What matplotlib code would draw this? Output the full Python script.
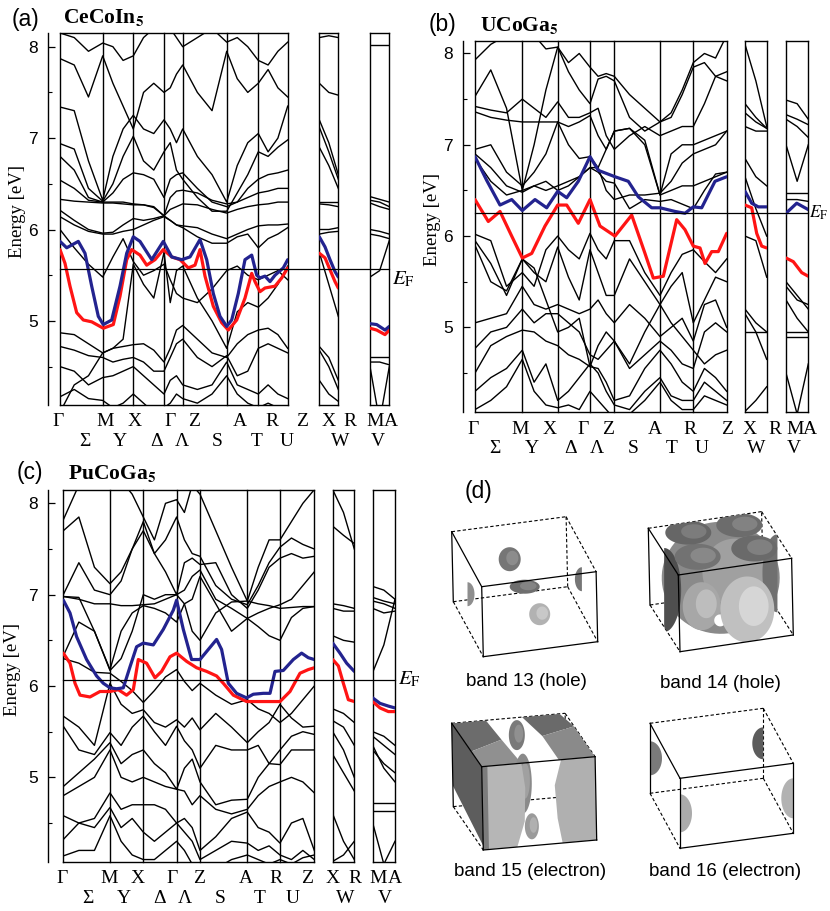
import numpy as np
import matplotlib
matplotlib.use("Agg")
import matplotlib.pyplot as plt
from matplotlib.lines import Line2D
from matplotlib.patches import Polygon
from matplotlib import transforms

plt.rcParams['mathtext.fontset'] = 'stix'
plt.rcParams['font.family'] = ['Liberation Sans', 'DejaVu Sans']
SERIF = ['Liberation Serif', 'DejaVu Serif']
SANS = ['Liberation Sans', 'DejaVu Sans']

# ------------------------------------------------------------------ data
TOP_LABELS = ['Γ', 'M', 'X', 'Γ', 'Z', 'A', 'R', 'Z', 'X', 'R', 'M', 'A']
BOTTOM_LABELS = ['Σ', 'Y', 'Δ', 'Λ', 'S', 'T', 'U', 'W', 'V']

# ---- (a) CeCoIn5
a_nodes = [0, 42.7, 73.3, 104, 122.7, 166.7, 198.3, 227.7]
a_xr_len, a_ma_len = 19.0, 19.3
a_EF = 5.57
a_black = [
    [8.15, 8.1, 7.95, 8.04, 8.0, 7.85, 7.9, 8.1, 8.2, 8.3, 8.2, 8.1, 8.0, 8.1, 8.2, 8.05, 8.1, 8.0, 7.85, 7.8, 7.95, 8.05],
    [7.87, 7.8, 7.45, 7.9, 7.6, 7.35, 7.1, 7.5, 7.6, 7.5, 7.55, 7.7, 7.8, 7.5, 7.3, 7.95, 7.65, 7.5, 7.6, 7.75, 7.55, 7.45],
    [7.34, 7.3, 6.75, 6.32, 6.8, 7.1, 7.25, 7.1, 7.05, 7.2, 7.1, 6.95, 7.1, 6.8, 6.6, 6.3, 6.7, 6.95, 7.05, 6.85, 7.0, 7.35],
    [6.94, 6.88, 6.45, 6.31, 6.5, 6.8, 7.02, 6.75, 6.65, 6.85, 6.95, 6.65, 6.55, 6.35, 6.2, 6.2, 6.4, 6.6, 6.85, 6.8, 6.9, 6.98],
    [6.80, 6.65, 6.35, 6.30, 6.4, 6.55, 6.62, 6.6, 6.55, 6.35, 6.55, 6.6, 6.62, 6.45, 6.3, 6.25, 6.3, 6.45, 6.55, 6.6, 6.62, 6.65],
    [6.54, 6.45, 6.32, 6.3, 6.3, 6.3, 6.28, 6.27, 6.24, 6.15, 6.35, 6.42, 6.43, 6.4, 6.32, 6.28, 6.3, 6.35, 6.4, 6.42, 6.45, 6.45],
    [6.33, 6.31, 6.3, 6.29, 6.29, 6.28, 6.27, 6.27, 6.25, 6.15, 6.22, 6.25, 6.28, 6.27, 6.22, 6.18, 6.22, 6.25, 6.27, 6.28, 6.3, 6.3],
    [6.21, 6.1, 6.0, 5.96, 5.97, 6.05, 6.12, 6.1, 6.12, 6.15, 6.1, 6.05, 6.04, 6.02, 5.95, 5.9, 5.95, 6.0, 6.04, 6.05, 6.05, 6.06],
    [6.14, 6.05, 5.98, 5.95, 5.95, 5.98, 6.0, 6.05, 6.1, 6.14, 6.1, 6.05, 6.02, 5.92, 5.85, 5.85, 5.92, 5.95, 5.8, 5.9, 5.95, 6.02],
    [6.0, 5.8, 5.62, 5.48, 5.7, 5.9, 5.65, 5.5, 5.55, 5.62, 5.45, 5.3, 5.25, 5.2, 5.35, 5.55, 5.6, 5.5, 5.45, 5.5, 5.55, 5.45],
    [4.87, 4.85, 4.75, 4.65, 4.7, 4.72, 4.74, 4.75, 4.68, 4.55, 4.7, 4.9, 4.95, 4.8, 4.65, 4.6, 4.75, 4.85, 4.9, 4.92, 4.85, 4.7],
    [4.72, 4.68, 4.62, 4.6, 4.55, 4.58, 4.6, 4.55, 4.45, 4.45, 4.6, 4.75, 4.8, 4.6, 4.5, 4.62, 4.4, 4.45, 4.7, 4.75, 4.7, 4.65],
    [4.5, 4.45, 4.3, 4.38, 4.4, 4.45, 4.5, 4.4, 4.3, 4.2, 4.35, 4.4, 4.3, 4.25, 4.3, 4.55, 4.3, 4.25, 4.2, 4.3, 4.2, 4.15],
    [4.17, 4.25, 4.15, 4.13, 4.05, 4.1, 4.2, 4.1, 4.0, 4.05, 4.1, 4.2, 4.15, 4.1, 4.2, 4.4, 4.2, 4.1, 4.05, 4.1, 4.05, 4.0],
    [4.0, 4.3, 4.4, 4.65, 4.7, 4.8, 5.62, 5.4, 5.25, 5.75, 5.2, 5.55, 5.6, 5.25, 5.0, 4.7, 5.1, 5.2, 5.15, 5.25, 5.4, 5.6],
]
a_xr_black = [[8.1, 8.12, 8.1], [7.6, 7.5, 7.47], [7.2, 6.95, 6.6], [7.12, 6.85, 6.55], [6.9, 6.7, 6.45],
              [6.3, 6.3, 6.3], [6.28, 6.27, 6.25], [6.0, 6.0, 6.02], [5.95, 5.97, 5.98], [5.75, 5.4, 5.05],
              [4.72, 4.6, 4.35], [4.68, 4.5, 4.25], [4.35, 4.2, 4.12]]
a_ma_black = [[8.02, 8.02, 8.02], [6.36, 6.33, 6.3], [6.32, 6.3, 6.25], [6.29, 6.25, 6.22], [6.0, 5.98, 5.95],
              [5.95, 5.93, 5.9], [5.48, 5.55, 5.88], [4.6, 4.6, 4.6], [4.55, 4.55, 4.52], [4.5, 3.9, 4.5]]
a_blue_k = [0, 6.7, 18.3, 25, 31.7, 38.3, 43.3, 51.7, 60, 66.7, 73.3, 80, 91.7, 103.3, 111.7, 121.7, 130, 140,
            146.7, 153.3, 160, 166.7, 171.7, 178.3, 185, 191.7, 196.7, 200, 205, 210, 215, 223.3, 227.7]
a_blue_E = [5.87, 5.80, 5.87, 5.74, 5.38, 5.05, 4.96, 5.01, 5.38, 5.74, 5.92, 5.87, 5.67, 5.87, 5.70, 5.67, 5.70,
            5.89, 5.67, 5.30, 5.05, 4.94, 5.01, 5.30, 5.67, 5.72, 5.50, 5.47, 5.49, 5.43, 5.50, 5.58, 5.67]
a_red_k = [0, 5, 10, 16.7, 23.3, 31.7, 43.3, 53.3, 60, 66.7, 71.7, 80, 86.7, 95, 103.3, 111.7, 120, 128.3, 135,
           140, 145, 153.3, 161.7, 168.3, 176.7, 185, 191.7, 195, 200, 205, 215, 221.7, 227.7]
a_red_E = [5.78, 5.63, 5.38, 5.09, 5.01, 4.99, 4.92, 4.96, 5.27, 5.67, 5.78, 5.72, 5.61, 5.67, 5.78, 5.70, 5.67,
           5.58, 5.61, 5.78, 5.49, 5.16, 4.98, 4.90, 5.01, 5.25, 5.52, 5.43, 5.32, 5.36, 5.38, 5.47, 5.58]
a_xr_k = [0, 5.7, 10.7, 15.7, 19]
a_xr_blue_E = [5.92, 5.81, 5.67, 5.54, 5.48]
a_xr_red_E = [5.74, 5.69, 5.56, 5.43, 5.36]
a_ma_k = [0, 6.7, 15, 19.3]
a_ma_blue_E = [4.97, 4.96, 4.90, 4.94]
a_ma_red_E = [4.92, 4.90, 4.85, 4.90]

# ---- (b) UCoGa5
b_nodes = [0, 47.3, 82.7, 115, 139.3, 185, 218.3, 251.7]
b_xr_len, b_ma_len = 21.7, 22.3
b_EF = 6.25
b_black = [
    [7.93, 8.1, 8.2, 8.3, 8.2, 8.05, 8.07, 7.9, 8.0, 7.85, 7.75, 7.78, 7.75, 7.55, 7.4, 7.25, 7.35, 7.6, 7.9, 8.0, 7.95, 8.2],
    [7.53, 7.82, 7.4, 6.5, 7.0, 7.6, 8.07, 7.8, 7.6, 7.45, 7.72, 7.75, 7.7, 7.3, 7.15, 7.25, 7.3, 7.55, 7.85, 7.9, 7.75, 7.7],
    [7.42, 7.38, 7.35, 7.5, 7.4, 7.3, 7.47, 7.3, 7.3, 7.35, 7.4, 7.1, 6.95, 7.1, 7.2, 7.1, 7.15, 7.2, 7.2, 7.45, 7.75, 7.8],
    [7.36, 7.3, 7.27, 7.25, 7.25, 7.25, 7.25, 7.2, 7.25, 7.32, 7.1, 6.95, 7.15, 7.18, 7.05, 6.45, 6.9, 7.0, 7.0, 7.05, 7.1, 7.15],
    [6.95, 7.0, 6.7, 6.55, 6.7, 6.9, 7.25, 7.0, 6.85, 6.87, 6.75, 6.5, 6.4, 6.45, 6.45, 6.47, 6.6, 6.8, 6.9, 6.95, 7.0, 7.15],
    [6.9, 6.75, 6.55, 6.48, 6.55, 6.6, 6.5, 6.55, 6.65, 6.75, 6.7, 6.6, 6.58, 6.3, 6.4, 6.38, 6.4, 6.35, 6.3, 6.5, 6.68, 6.7],
    [6.02, 5.95, 5.45, 5.6, 5.45, 5.85, 6.0, 5.85, 5.75, 6.03, 5.85, 5.75, 5.95, 5.95, 5.6, 5.35, 5.6, 5.8, 5.85, 5.72, 5.6, 5.75],
    [5.95, 5.7, 5.35, 5.75, 5.6, 5.5, 5.88, 5.55, 5.3, 5.85, 5.6, 5.35, 5.35, 5.75, 5.5, 5.25, 5.45, 5.6, 5.05, 5.3, 5.55, 5.5],
    [5.05, 5.1, 5.15, 5.45, 5.25, 5.2, 5.25, 5.2, 5.15, 5.2, 5.3, 5.15, 5.05, 5.25, 5.1, 4.9, 5.0, 5.1, 4.85, 5.25, 5.3, 5.0],
    [4.77, 4.95, 5.0, 5.2, 5.05, 5.15, 5.15, 5.05, 4.95, 4.7, 4.65, 4.75, 4.85, 4.55, 4.7, 4.85, 4.75, 4.6, 4.55, 4.95, 5.05, 4.95],
    [4.5, 4.8, 4.9, 4.97, 4.95, 4.85, 4.8, 4.7, 4.65, 4.57, 4.55, 4.4, 4.2, 4.25, 4.55, 4.75, 4.6, 4.4, 4.3, 4.55, 4.45, 4.3],
    [4.3, 4.45, 4.55, 4.75, 4.4, 4.6, 4.2, 4.3, 4.45, 4.6, 4.5, 4.3, 4.15, 4.1, 4.3, 4.45, 4.25, 4.2, 4.2, 4.4, 4.3, 4.2],
    [4.1, 4.2, 4.35, 4.65, 4.3, 4.15, 4.12, 4.15, 4.1, 4.3, 4.2, 4.1, 4.0, 4.05, 4.2, 4.4, 4.2, 4.1, 4.1, 4.25, 4.2, 4.15],
    [6.85, 6.6, 6.45, 6.5, 6.55, 6.5, 6.55, 6.6, 6.65, 6.75, 6.75, 6.95, 7.15, 7.18, 7.0, 6.45, 6.5, 6.55, 6.55, 6.6, 6.65, 6.7],
    [5.9, 5.5, 5.4, 5.75, 5.65, 5.3, 4.95, 5.0, 5.1, 4.57, 4.8, 4.95, 4.85, 4.6, 4.95, 5.25, 5.05, 4.9, 4.75, 4.6, 4.7, 4.75],
]
b_xr_black = [[8.1, 7.7, 7.2], [7.45, 7.3, 7.18], [7.35, 7.25, 7.18], [7.2, 7.15, 7.15], [6.85, 6.65, 6.55],
              [6.65, 6.3, 6.0], [6.0, 5.95, 5.55], [5.2, 5.05, 4.95], [5.15, 4.95, 4.65], [4.95, 4.95, 4.95],
              [4.08, 4.2, 4.35]]
b_ma_black = [[7.49, 7.45, 7.28], [7.33, 7.28, 7.22], [7.28, 7.2, 7.08], [7.0, 6.6, 7.0], [6.47, 6.47, 6.47],
              [6.4, 6.4, 6.38], [5.5, 5.35, 5.2], [5.45, 5.3, 5.25], [5.3, 5.1, 4.95], [4.95, 4.95, 4.95],
              [4.9, 4.9, 4.9], [4.5, 4.05, 4.6]]
b_blue_k = [0, 11.7, 25, 36.7, 47.3, 60, 71.7, 82.7, 91.7, 103.3, 115, 123.3, 140, 153.3, 163.3, 176.7, 185, 200,
            210, 218.3, 226.7, 240, 251.7]
b_blue_E = [6.87, 6.61, 6.34, 6.40, 6.28, 6.40, 6.31, 6.49, 6.42, 6.60, 6.87, 6.72, 6.65, 6.60, 6.43, 6.31, 6.31,
            6.27, 6.25, 6.32, 6.31, 6.60, 6.65]
b_red_k = [0, 13.3, 25, 36.7, 47.3, 56.7, 70, 82.7, 91.7, 103.3, 115, 125, 140, 156.7, 170, 178.3, 188.3, 201.7,
           210, 218.3, 225, 230, 236.7, 243.3, 251.7]
b_red_E = [6.40, 6.16, 6.27, 6.00, 5.76, 5.81, 6.11, 6.34, 6.34, 6.14, 6.40, 6.11, 6.00, 6.23, 5.81, 5.54, 5.56,
           6.18, 6.07, 5.89, 5.87, 5.70, 5.83, 5.83, 6.03]
b_xr_blue_k, b_xr_blue_E = [0, 6.7, 13.3, 21.7], [6.49, 6.36, 6.32, 6.32]
b_xr_red_k, b_xr_red_E = [0, 6.7, 11.7, 16.7, 21.7], [6.34, 6.31, 6.03, 5.89, 5.87]
b_ma_blue_k, b_ma_blue_E = [0, 10.7, 17.3, 22.3], [6.25, 6.36, 6.32, 6.29]
b_ma_red_k, b_ma_red_E = [0, 7.3, 15.7, 22.3], [5.76, 5.72, 5.60, 5.56]

# ---- (c) PuCoGa5
c_nodes = [0, 46.7, 80, 113.3, 136.7, 184, 216.7, 251]
c_xr_len, c_ma_len = 21.7, 22.3
c_EF = 6.07
c_black = [
    [7.82, 8.2, 8.3, 8.2, 8.25, 8.1, 7.85, 7.6, 8.0, 8.04, 7.9, 8.2, 8.1, 7.7, 7.3, 6.93, 7.3, 7.6, 7.6, 7.8, 8.0, 8.15],
    [7.7, 7.85, 7.3, 7.12, 7.25, 7.5, 7.8, 7.45, 7.6, 7.85, 7.6, 7.45, 7.42, 7.1, 6.95, 6.89, 7.1, 7.35, 7.52, 7.62, 7.55, 7.5],
    [7.0, 7.35, 7.05, 7.0, 7.15, 7.5, 7.7, 7.45, 7.25, 7.0, 7.35, 7.4, 7.33, 7.35, 7.0, 6.85, 7.05, 7.3, 7.4, 7.45, 7.4, 7.42],
    [6.98, 6.95, 6.9, 6.9, 6.88, 6.88, 6.89, 6.9, 6.95, 7.0, 7.05, 7.2, 7.27, 6.95, 6.85, 6.74, 6.8, 6.85, 6.89, 6.95, 7.1, 7.25],
    [6.33, 6.7, 6.6, 6.18, 6.6, 6.8, 6.88, 6.85, 6.8, 6.7, 6.9, 6.95, 7.2, 6.9, 6.6, 6.74, 6.65, 6.55, 6.5, 6.75, 6.85, 6.87],
    [6.3, 6.25, 6.15, 6.14, 6.05, 5.95, 5.82, 5.95, 6.1, 6.18, 6.05, 5.95, 6.03, 5.9, 5.8, 5.85, 5.75, 5.7, 5.6, 5.7, 5.85, 6.0],
    [5.67, 5.55, 5.35, 6.03, 5.8, 5.7, 5.74, 5.6, 5.55, 5.63, 5.55, 5.65, 5.52, 5.7, 5.55, 5.38, 5.5, 5.6, 5.8, 5.65, 5.55, 5.56],
    [5.56, 5.3, 5.25, 5.49, 5.35, 5.55, 5.67, 5.5, 5.35, 5.56, 5.4, 5.3, 5.1, 5.35, 5.3, 5.3, 5.35, 5.15, 5.3, 5.45, 5.5, 5.47],
    [4.9, 5.05, 5.2, 5.38, 5.15, 5.25, 5.3, 5.15, 5.05, 4.87, 5.1, 5.2, 4.95, 4.7, 4.75, 4.76, 5.0, 5.15, 5.14, 5.3, 5.3, 5.3],
    [4.8, 4.9, 5.0, 5.3, 5.0, 4.95, 5.0, 4.95, 4.9, 4.87, 4.85, 4.7, 4.8, 4.65, 4.6, 4.65, 4.8, 4.9, 4.95, 5.0, 4.95, 4.83],
    [4.58, 4.5, 4.55, 4.83, 4.65, 4.7, 4.7, 4.7, 4.65, 4.5, 4.55, 4.45, 4.2, 4.35, 4.55, 4.62, 4.45, 4.4, 4.28, 4.5, 4.55, 4.2],
    [4.32, 4.5, 4.45, 4.67, 4.45, 4.55, 4.4, 4.3, 4.4, 4.5, 4.4, 4.3, 4.1, 4.2, 4.3, 4.28, 4.2, 4.25, 4.15, 4.1, 4.2, 4.1],
    [4.14, 4.2, 4.2, 4.58, 4.3, 4.15, 4.1, 4.1, 4.2, 4.3, 4.2, 4.05, 3.9, 4.0, 4.1, 4.15, 4.1, 4.05, 4.1, 4.05, 4.12, 4.15],
    [6.98, 6.97, 6.6, 6.17, 6.3, 6.6, 7.0, 6.95, 7.0, 7.0, 6.9, 6.6, 6.5, 6.8, 6.92, 6.93, 6.9, 6.88, 6.85, 6.86, 6.87, 6.87],
]
c_xr_black = [[8.15, 7.9, 7.5], [7.75, 7.65, 7.56], [6.9, 6.88, 6.85], [6.85, 6.82, 6.82], [6.55, 6.5, 6.48],
              [5.75, 5.7, 5.6], [5.62, 5.55, 5.35], [5.5, 5.3, 5.0], [5.25, 5.05, 4.85], [4.6, 4.3, 4.1],
              [4.08, 4.15, 4.3]]
c_ma_black = [[7.09, 7.05, 6.95], [6.97, 6.93, 6.9], [6.93, 6.9, 6.85], [6.85, 6.8, 6.82], [6.15, 6.45, 6.95],
              [5.5, 5.45, 5.35], [5.45, 5.35, 5.25], [5.3, 5.15, 5.05], [5.35, 5.1, 4.95], [4.72, 4.72, 4.72],
              [4.63, 4.63, 4.63], [4.5, 4.05, 4.3]]
c_blue_k = [0, 6.7, 13.3, 23.3, 33.3, 40, 46.7, 53.3, 60, 66.7, 73.3, 80, 90, 100, 110, 113.3, 120, 128.3, 136.7,
            145, 153.3, 158.3, 165, 173.3, 183.3, 190, 200, 206.7, 211.7, 220, 230, 238.3, 245, 251]
c_blue_E = [6.94, 6.80, 6.54, 6.29, 6.11, 6.03, 5.98, 5.97, 5.98, 6.21, 6.43, 6.47, 6.45, 6.62, 6.83, 6.94, 6.62,
            6.29, 6.29, 6.40, 6.51, 6.40, 6.03, 5.92, 5.87, 5.91, 5.92, 5.92, 6.16, 6.17, 6.29, 6.36, 6.31, 6.29]
c_red_k = [0, 6.7, 11.7, 16.7, 26.7, 36.7, 46.7, 55, 63.3, 70, 75, 83.3, 91.7, 98.3, 106.7, 113.3, 123.3, 133.3,
           143.3, 153.3, 160, 170, 183.3, 196.7, 206.7, 216.7, 226.7, 236.7, 245, 251]
c_red_E = [6.36, 6.25, 6.03, 5.90, 5.88, 5.94, 5.94, 5.96, 5.90, 5.96, 6.29, 6.25, 6.09, 6.16, 6.32, 6.36, 6.27,
           6.20, 6.16, 6.11, 6.03, 5.90, 5.83, 5.83, 5.83, 5.83, 5.94, 6.14, 6.18, 6.20]
c_xr_blue_k, c_xr_blue_E = [0, 7.3, 14, 21.7], [6.47, 6.36, 6.25, 6.16]
c_xr_red_k, c_xr_red_E = [0, 5.7, 10.7, 15.7, 21.7], [6.29, 6.22, 6.03, 5.85, 5.83]
c_ma_k = [0, 7.3, 15.7, 22.3]
c_ma_blue_E = [5.87, 5.81, 5.78, 5.76]
c_ma_red_E = [5.83, 5.76, 5.72, 5.72]

# ---- (d) Fermi-surface pockets (fractional BZ coords u, v, w; size; grey)
fs_titles = ['band 13 (hole)', 'band 14 (hole)', 'band 15 (electron)', 'band 16 (electron)']
band13_pockets = [(0.5, 1.0, 0.5, 22, 24, '#767676', None), (0.5, 0.5, 0.5, 30, 14, '#6e6e6e', None),
                  (0.0, 0.5, 0.5, 14, 24, '#8e8e8e', 'right'), (1.0, 0.5, 0.5, 14, 24, '#767676', 'left'),
                  (0.5, 0.0, 0.5, 21, 22, '#b2b2b2', None)]
band14_pockets = [(0.5, 0.5, 0.55, 118, 112, '#8a8a8a', None), (0.0, 0.5, 0.5, 34, 84, '#4f4f4f', 'right'),
                  (1.0, 0.5, 0.5, 30, 78, '#707070', 'left'), (0.25, 0.3, 1.0, 46, 26, '#727272', None),
                  (0.75, 0.3, 1.0, 46, 26, '#6a6a6a', None), (0.3, 0.8, 1.0, 46, 24, '#666666', None),
                  (0.75, 0.8, 1.0, 46, 24, '#6c6c6c', None), (0.2, 0.0, 0.55, 38, 48, '#a7a7a7', None),
                  (0.36, 0.0, 0.33, 12, 12, '#ffffff', None), (0.6, 0.0, 0.42, 54, 66, '#c0c0c0', None)]
band15_faces = [('#5d5d5d', [(0, 0, 0.05), (0, 0, 1), (0, 1, 1), (0, 1, 0.25)]),
                ('#6c6c6c', [(0, 0.35, 1), (0, 1, 1), (0.3, 1, 1), (0.32, 0.55, 1)]),
                ('#909090', [(0, 0, 1), (0, 0.35, 1), (0.32, 0.55, 1), (0.35, 0, 1)]),
                ('#6a6a6a', [(0.62, 1, 1), (0.95, 1, 1), (1, 0.7, 1), (0.68, 0.55, 1)]),
                ('#8a8a8a', [(0.68, 0, 1), (1, 0, 1), (1, 0.7, 1), (0.68, 0.55, 1)])]
band15_pockets = [(0.5, 0.55, 0.45, 18, 60, '#8a8a8a', None), (0.47, 0.15, 0.15, 14, 26, '#9a9a9a', None),
                  (0.52, 0.8, 0.9, 16, 30, '#7a7a7a', None)]
band15_front = [('#b6b6b6', [(0, 0, 0), (0.3, 0, 0), (0.37, 0, 0.3), (0.38, 0, 0.7), (0.35, 0, 1), (0, 0, 1)]),
                ('#7c7c7c', [(0, 0, 0), (0.05, 0, 0), (0.05, 0, 1), (0, 0, 1)]),
                ('#b0b0b0', [(0.7, 0, 0), (1, 0, 0), (1, 0, 1), (0.7, 0, 1), (0.64, 0, 0.7), (0.66, 0, 0.3)])]
band16_pockets = [(0.0, 1.0, 0.5, 24, 34, '#7a7a7a', 'right'), (1.0, 1.0, 0.5, 22, 32, '#5c5c5c', 'left'),
                  (0.0, 0.0, 0.5, 24, 38, '#ababab', 'right'), (1.0, 0.0, 0.5, 24, 40, '#b2b2b2', 'left')]

# ------------------------------------------------------------------ layout
W, H = 830, 911
fig = plt.figure(figsize=(W / 100, H / 100), dpi=100)
fig.patch.set_facecolor('white')


def px_axes(l, t, r, b):
    return fig.add_axes([l / W, 1 - b / H, (r - l) / W, (b - t) / H])


BLUE = '#23238f'
RED = '#ff1414'


def style_box(ax, xlen, ylim):
    ax.set_xlim(0, xlen)
    ax.set_ylim(*ylim)
    ax.set_xticks([])
    ax.set_yticks([])
    for s in ax.spines.values():
        s.set_linewidth(1.0)


def draw_panel(L, nodes, xr_len, ma_len, EF, black, xr_black, ma_black,
               blue, red, xr_blue, xr_red, ma_blue, ma_red, tag, formula):
    l, t, r, b = L['main']
    ylim = L['ylim']
    ax = px_axes(l, t, r, b)
    axx = px_axes(L['xr'][0], t, L['xr'][1], b)
    axm = px_axes(L['ma'][0], t, L['ma'][1], b)
    style_box(ax, nodes[-1], ylim)
    style_box(axx, xr_len, ylim)
    style_box(axm, ma_len, ylim)
    # y axis on main panel, detached to the left
    ax.spines['left'].set_position(('outward', L['spine'] * 0.72))
    ax.set_yticks([5, 6, 7, 8])
    ax.set_yticks([4.5, 5.5, 6.5, 7.5], minor=True)
    ax.tick_params(axis='y', which='major', direction='in', length=5, width=0.9, labelsize=12.5, pad=7)
    ax.tick_params(axis='y', which='minor', direction='in', length=3, width=0.8)
    for lab in ax.get_yticklabels():
        lab.set_family(SANS)
    for k in nodes[:-1]:
        ax.axvline(k, color='k', lw=1.0, clip_on=False)
    # bands
    kgrid = np.concatenate([np.linspace(nodes[i], nodes[i + 1], 4)[:-1] for i in range(len(nodes) - 1)]
                           + [[nodes[-1]]])
    for E in black:
        ax.plot(kgrid, E, color='k', lw=1.0)
    for E in xr_black:
        axx.plot(np.linspace(0, xr_len, len(E)), E, color='k', lw=1.0)
    for E in ma_black:
        axm.plot(np.linspace(0, ma_len, len(E)), E, color='k', lw=1.0)
    for a, (bk, bE), (rk, rE) in ((ax, blue, red), (axx, xr_blue, xr_red), (axm, ma_blue, ma_red)):
        a.plot(rk, rE, color=RED, lw=2.3, zorder=5, solid_capstyle='round')
        a.plot(bk, bE, color=BLUE, lw=2.3, zorder=6, solid_capstyle='round')
    # Fermi level line across all three panels
    yd = ax.transData.transform((0, EF))[1] / fig.bbox.height
    x0 = ax.get_position().x0
    x1 = axm.get_position().x1
    fig.add_artist(Line2D([x0, x1], [yd, yd], transform=fig.transFigure, color='k', lw=0.9))
    tr = transforms.blended_transform_factory(axm.transAxes, axm.transData)
    axm.text(1.0 + L['ef_dx'] / (L['ma'][1] - L['ma'][0]), EF, r'$E_\mathrm{F}$', transform=tr,
             fontsize=L['ef_size'], va=L['ef_va'], ha='left', clip_on=False)
    # k labels
    for s, x in zip(TOP_LABELS, L['top_x']):
        fig.text(x / W, 1 - L['top_y'] / H, s, family=SERIF, fontsize=14, ha='center', va='center')
    for s, x in zip(BOTTOM_LABELS, L['bot_x']):
        fig.text(x / W, 1 - L['bot_y'] / H, s, family=SERIF, fontsize=14, ha='center', va='center')
    # y label and titles
    fig.text(L['ylab'][0] / W, 1 - L['ylab'][1] / H, 'Energy [eV]', family=SERIF, fontsize=13.5,
             rotation=90, ha='center', va='center')
    fig.text(L['tag'][0] / W, 1 - L['tag'][1] / H, tag, family=SANS, fontsize=16.5, ha='left', va='baseline')
    fig.text(L['form'][0] / W, 1 - L['form'][1] / H, formula, family=SERIF, fontsize=15.5,
             weight='bold', ha='left', va='baseline')


LAY_A = dict(main=(60, 33, 287.7, 405), xr=(319.3, 338.3), ma=(370, 389.3), ylim=(4.08, 8.15), spine=12.3,
             top_x=[58.3, 105, 135, 170, 194.3, 240, 271.7, 301.7, 328.3, 350, 375, 390.7], top_y=421.7,
             bot_x=[85, 120, 156.7, 181.7, 216.7, 256.7, 286.7, 340, 378.3], bot_y=441.7,
             ylab=(17.5, 211), tag=(11.5, 26), form=(63.3, 23), ef_dx=2.5, ef_va='top', ef_size=15)
LAY_B = dict(main=(475, 40.7, 726.7, 412.3), xr=(745, 766.7), ma=(786, 808.3), ylim=(4.07, 8.14), spine=12.3,
             top_x=[473.3, 520, 550, 583.3, 608.3, 655, 690, 726.7, 750, 775, 795, 810], top_y=429,
             bot_x=[495, 532, 571, 597, 633, 672, 702, 756, 794], bot_y=448.3,
             ylab=(432.5, 220), tag=(428.3, 31), form=(480, 31), ef_dx=1.0, ef_va='center', ef_size=12.5)
LAY_C = dict(main=(63.3, 490, 314.3, 862.3), xr=(332.7, 354.3), ma=(372.7, 395), ylim=(4.07, 8.146), spine=15.7,
             top_x=[61.7, 109.3, 137.7, 171.7, 199, 245.7, 276, 307.3, 332.7, 355, 377.7, 395], top_y=878.3,
             bot_x=[88.3, 124, 159.3, 185, 220, 260, 292.7, 345, 385], bot_y=898.3,
             ylab=(12.5, 670), tag=(16.7, 479), form=(68.3, 479), ef_dx=3.0, ef_va='center', ef_size=15)

draw_panel(LAY_A, a_nodes, a_xr_len, a_ma_len, a_EF, a_black, a_xr_black, a_ma_black,
           (a_blue_k, a_blue_E), (a_red_k, a_red_E), (a_xr_k, a_xr_blue_E), (a_xr_k, a_xr_red_E),
           (a_ma_k, a_ma_blue_E), (a_ma_k, a_ma_red_E), '(a)', r'CeCoIn$_\mathbf{5}$')
draw_panel(LAY_B, b_nodes, b_xr_len, b_ma_len, b_EF, b_black, b_xr_black, b_ma_black,
           (b_blue_k, b_blue_E), (b_red_k, b_red_E), (b_xr_blue_k, b_xr_blue_E), (b_xr_red_k, b_xr_red_E),
           (b_ma_blue_k, b_ma_blue_E), (b_ma_red_k, b_ma_red_E), '(b)', r'UCoGa$_\mathbf{5}$')
draw_panel(LAY_C, c_nodes, c_xr_len, c_ma_len, c_EF, c_black, c_xr_black, c_ma_black,
           (c_blue_k, c_blue_E), (c_red_k, c_red_E), (c_xr_blue_k, c_xr_blue_E), (c_xr_red_k, c_xr_red_E),
           (c_ma_k, c_ma_blue_E), (c_ma_k, c_ma_red_E), '(c)', r'PuCoGa$_\mathbf{5}$')

# ------------------------------------------------------------------ (d) Fermi surfaces
axd = px_axes(415, 450, 830, 911)
axd.set_xlim(415, 830)
axd.set_ylim(911, 450)
axd.axis('off')

BOXES = [  # origin (front-bottom-left), width vector, depth vector, height vector (pixels)
    ((483.3, 656.7), (114.4, -15), (-30, -55), (-1.6, -70)),
    ((680, 651.7), (113.3, -16.7), (-30, -46.7), (-1.7, -76.7)),
    ((483.3, 850), (113.4, -10), (-30, -43.4), (-1.6, -83.3)),
    ((680, 848.3), (113.3, -15), (-30, -55), (0, -70)),
]
TITLE_POS = [(526.7, 682), (720, 683), (530, 872), (725, 872)]


def proj(box, u, v, w):
    p0, ex, ey, ez = (np.array(q, float) for q in box)
    return p0 + u * ex + v * ey + w * ez


def outline(box):
    pts = [(0, 0, 0), (1, 0, 0), (1, 0, 1), (1, 1, 1), (0, 1, 1), (0, 1, 0)]
    return np.array([proj(box, *p) for p in pts])


def draw_pocket(box, spec, clip):
    u, v, w, pw, ph, col, half = spec
    c = proj(box, u, v, w)
    if half == 'right':
        th = np.linspace(-np.pi / 2, np.pi / 2, 40)
    elif half == 'left':
        th = np.linspace(np.pi / 2, 3 * np.pi / 2, 40)
    else:
        th = np.linspace(0, 2 * np.pi, 80)
    pts = np.c_[c[0] + pw / 2 * np.cos(th), c[1] + ph / 2 * np.sin(th)]
    p = Polygon(pts, closed=True, fc=col, ec='none', zorder=3)
    axd.add_patch(p)
    p.set_clip_path(clip)
    if half is None and col != '#ffffff':
        # simple highlight for a shaded look
        rgb = int(col[1:3], 16)
        hl = '#%02x%02x%02x' % ((min(rgb + 28, 235),) * 3)
        pts2 = np.c_[c[0] + pw * 0.12 + pw / 2 * 0.55 * np.cos(th), c[1] - ph * 0.05 + ph / 2 * 0.6 * np.sin(th)]
        p2 = Polygon(pts2, closed=True, fc=hl, ec='none', zorder=3, alpha=0.8)
        axd.add_patch(p2)
        p2.set_clip_path(clip)


def draw_faces(box, faces, clip, z=3):
    for col, pts in faces:
        p = Polygon(np.array([proj(box, *q) for q in pts]), closed=True, fc=col, ec='none', zorder=z)
        axd.add_patch(p)
        p.set_clip_path(clip)


def draw_edges(box):
    solid = [((0, 0, 0), (1, 0, 0)), ((1, 0, 0), (1, 0, 1)), ((1, 0, 1), (0, 0, 1)), ((0, 0, 1), (0, 0, 0)),
             ((0, 0, 1), (0, 1, 1)), ((0, 1, 0), (0, 1, 1))]
    dashed = [((0, 1, 1), (1, 1, 1)), ((1, 1, 1), (1, 0, 1)), ((1, 1, 0), (1, 1, 1)),
              ((0, 1, 0), (1, 1, 0)), ((1, 1, 0), (1, 0, 0)), ((0, 1, 0), (0, 0, 0))]
    for a, b in solid:
        pa, pb = proj(box, *a), proj(box, *b)
        axd.plot([pa[0], pb[0]], [pa[1], pb[1]], color='k', lw=0.9, zorder=5)
    for a, b in dashed:
        pa, pb = proj(box, *a), proj(box, *b)
        axd.plot([pa[0], pb[0]], [pa[1], pb[1]], color='k', lw=0.8, ls=(0, (3, 2)), zorder=2)


for i, box in enumerate(BOXES):
    clip = Polygon(outline(box), closed=True, fc='none', ec='none', transform=axd.transData)
    axd.add_patch(clip)
    draw_edges(box)
    if i == 0:
        for s in band13_pockets:
            draw_pocket(box, s, clip)
    elif i == 1:
        for s in band14_pockets:
            draw_pocket(box, s, clip)
    elif i == 2:
        draw_faces(box, band15_faces, clip)
        for s in band15_pockets:
            draw_pocket(box, s, clip)
        draw_faces(box, band15_front, clip, z=4)
    else:
        for s in band16_pockets:
            draw_pocket(box, s, clip)
    tx, ty = TITLE_POS[i]
    fig.text(tx / W, 1 - ty / H, fs_titles[i], family=SANS, fontsize=13.5, ha='center', va='center')

fig.text(465 / W, 1 - 498 / H, '(d)', family=SANS, fontsize=16.5, ha='left', va='baseline')

fig.savefig('out.png', dpi=100, facecolor='white')
